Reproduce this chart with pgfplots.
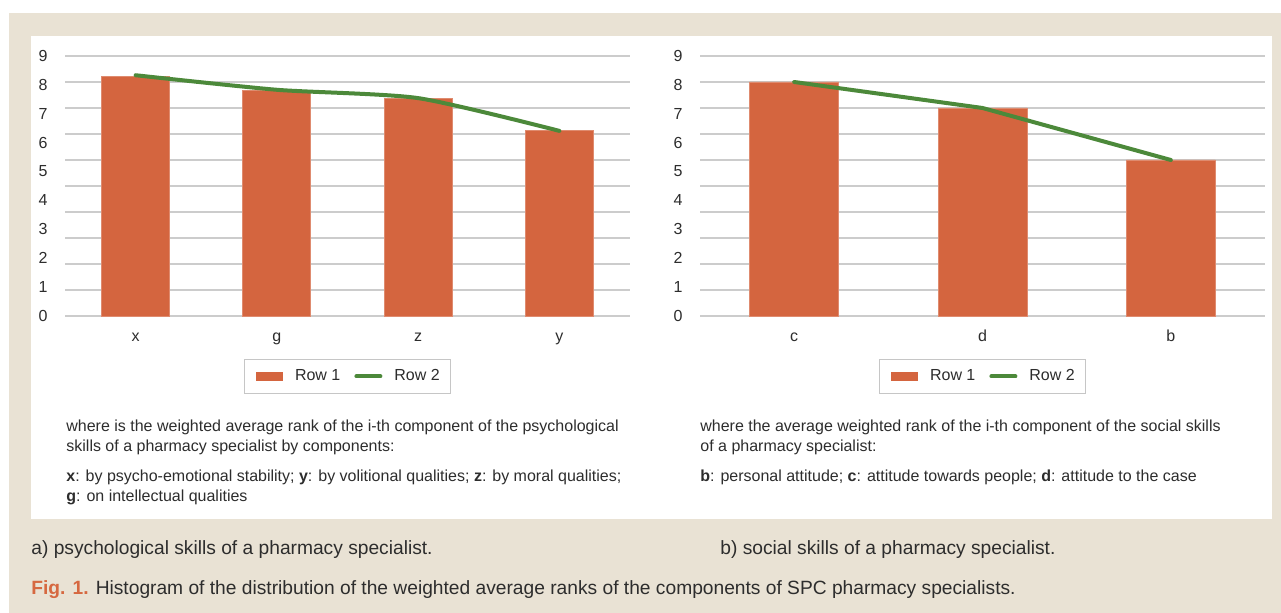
\documentclass[border=0pt]{standalone}
\usepackage{pgfplots}
\pgfplotsset{compat=1.18}
\usepackage{fontspec}
\setmainfont{Liberation Sans}
\definecolor{bg}{RGB}{233,226,212}
\definecolor{barc}{RGB}{212,101,63}
\definecolor{linec}{RGB}{76,137,58}
\definecolor{txt}{RGB}{45,45,45}
\definecolor{gridc}{RGB}{204,204,204}
\definecolor{figc}{RGB}{214,104,64}
\pgfplotsset{
  myax/.style={
    scale only axis, width=282.5pt, height=130pt,
    anchor=south west,
    ymin=0, ymax=10,
    ytick={0,1.1111,2.2222,3.3333,4.4444,5.5556,6.6667,7.7778,8.8889,10},
    yticklabels={0,1,2,3,4,5,6,7,8,9},
    minor ytick={0,1,2,3,4,5,6,7,8,9,10},
    yminorgrids=true, ymajorgrids=false,
    minor grid style={gridc, line width=1pt},
    axis line style={draw=none},
    tick style={draw=none},
    major tick length=0pt, minor tick length=0pt,
    tick label style={font=\fontsize{8}{9.6}\selectfont, text=txt},
    yticklabel style={anchor=east, inner sep=0pt, xshift=-8.5pt},
    xticklabel style={anchor=base, inner sep=0pt, yshift=-12.8pt},
    legend columns=2,
    legend style={draw=gray!45, line width=0.5pt, font=\fontsize{8}{9.6}\selectfont, text=txt,
      anchor=center, at={(0.5,-0.2327)}, inner xsep=3.5pt, inner ysep=3pt,
      /tikz/every odd column/.append style={column sep=4pt},
      /tikz/every even column/.append style={column sep=5pt}},
    legend cell align=left,
    clip=false,
  }
}
\begin{document}
\begin{tikzpicture}
\fill[white] (0pt,0pt) rectangle (640.5pt,306.5pt);
\fill[bg] (4.5pt,0pt) rectangle (640.5pt,300pt);
\fill[white] (15.5pt,47pt) rectangle (636pt,288.5pt);

\begin{axis}[myax, at={(32.5pt,148.5pt)},
  xmin=-0.5, xmax=3.5, xtick={0,1,2,3}, xticklabels={x,g,z,y}]
\addplot[ybar, bar width=34pt, fill=barc, draw=barc!75!white, line width=0.4pt,
  legend image code/.code={\path (0pt,0pt); \fill[barc] (2.5pt,-2pt) rectangle (15.5pt,2pt);}]
  coordinates {(0,9.23) (1,8.69) (2,8.35) (3,7.12)};
\addlegendentry{Row 1}
\addplot[linec, line width=2pt, line cap=round, smooth, tension=0.4, mark=none,
  legend image code/.code={\draw[linec, line width=2pt, line cap=round] (1pt,0pt) -- (13pt,0pt);}]
  coordinates {(0,9.26) (1,8.70) (2,8.38) (3,7.12)};
\addlegendentry{Row 2}
\end{axis}

\begin{axis}[myax, at={(350pt,148.5pt)},
  xmin=-0.5, xmax=2.5, xtick={0,1,2}, xticklabels={c,d,b}]
\addplot[ybar, bar width=44.5pt, fill=barc, draw=barc!75!white, line width=0.4pt,
  legend image code/.code={\path (0pt,0pt); \fill[barc] (2.5pt,-2pt) rectangle (15.5pt,2pt);}]
  coordinates {(0,9) (1,8) (2,6)};
\addlegendentry{Row 1}
\addplot[linec, line width=2pt, line cap=round, mark=none,
  legend image code/.code={\draw[linec, line width=2pt, line cap=round] (1pt,0pt) -- (13pt,0pt);}]
  coordinates {(0,9) (1,8) (2,6)};
\addlegendentry{Row 2}
\end{axis}

\begin{scope}[every node/.style={anchor=base west, inner sep=0pt, text=txt, font=\fontsize{8}{9.6}\selectfont}]
\node at (33pt,90.5pt) {where is the weighted average rank of the i-th component of the psychological};
\node at (33pt,80.5pt) {skills of a pharmacy specialist by components:};
\node at (33pt,65.5pt) {\textbf{x}: by psycho-emotional stability; \textbf{y}: by volitional qualities; \textbf{z}: by moral qualities;};
\node at (33pt,55.5pt) {\textbf{g}: on intellectual qualities};
\node at (350pt,90.5pt) {where the average weighted rank of the i-th component of the social skills};
\node at (350pt,80.5pt) {of a pharmacy specialist:};
\node at (350pt,65.5pt) {\textbf{b}: personal attitude; \textbf{c}: attitude towards people; \textbf{d}: attitude to the case};
\end{scope}
\begin{scope}[every node/.style={anchor=base west, inner sep=0pt, text=txt, font=\fontsize{9.6}{11}\selectfont}]
\node at (15.5pt,29pt) {a) psychological skills of a pharmacy specialist.};
\node at (360pt,29pt) {b) social skills of a pharmacy specialist.};
\node at (15.5pt,9pt) {\textcolor{figc}{\textbf{Fig. 1.}} Histogram of the distribution of the weighted average ranks of the components of SPC pharmacy specialists.};
\end{scope}
\end{tikzpicture}
\end{document}
